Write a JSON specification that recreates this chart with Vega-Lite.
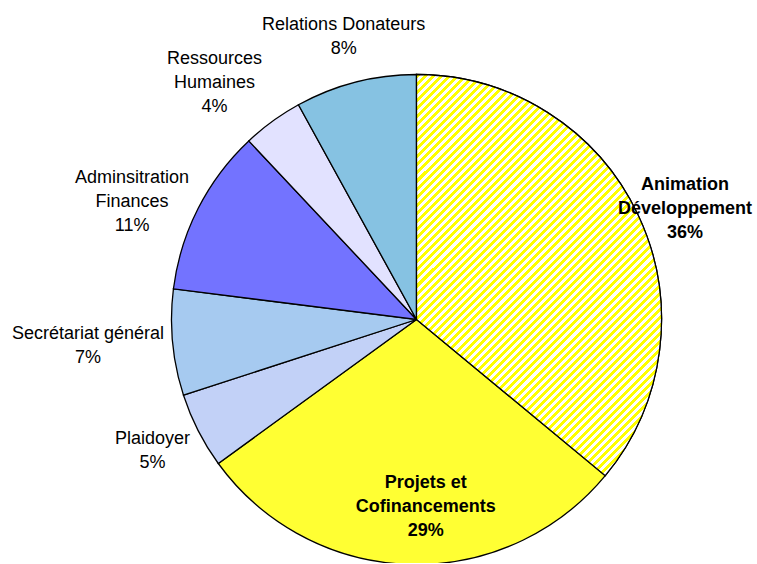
{
  "$schema": "https://vega.github.io/schema/vega-lite/v6.json",
  "width": 683,
  "height": 487,
  "autosize": {"type": "none"},
  "padding": {"left": 75, "top": 76, "right": 0, "bottom": 0},
  "background": "white",
  "config": {"view": {"stroke": null}, "text": {"font": "Liberation Sans", "fontSize": 18, "lineHeight": 24, "lineBreak": "\n", "color": "black"}},
  "data": {"values": [
    {"order": 1, "name": "Animation Développement", "label": "Animation\nDéveloppement\n36%", "value": 36},
    {"order": 2, "name": "Projets et Cofinancements", "label": "Projets et\nCofinancements\n29%", "value": 29},
    {"order": 3, "name": "Plaidoyer", "label": "Plaidoyer\n5%", "value": 5},
    {"order": 4, "name": "Secrétariat général", "label": "Secrétariat général\n7%", "value": 7},
    {"order": 5, "name": "Adminsitration Finances", "label": "Adminsitration\nFinances\n11%", "value": 11},
    {"order": 6, "name": "Ressources Humaines", "label": "Ressources\nHumaines\n4%", "value": 4},
    {"order": 7, "name": "Relations Donateurs", "label": "Relations Donateurs\n8%", "value": 8}
  ]},
  "encoding": {
    "theta": {"field": "value", "type": "quantitative", "stack": true},
    "order": {"field": "order", "type": "quantitative"}
  },
  "layer": [
    {
      "mark": {"type": "arc", "outerRadius": 245, "stroke": "black", "strokeWidth": 1.3},
      "encoding": {
        "color": {
          "field": "name", "type": "nominal", "legend": null,
          "scale": {
            "domain": ["Animation Développement", "Projets et Cofinancements", "Plaidoyer", "Secrétariat général", "Adminsitration Finances", "Ressources Humaines", "Relations Donateurs"],
            "range": ["#FFFF80", "#FFFF33", "#C2D1F7", "#A6CAF0", "#7373FF", "#E2E2FF", "#86C2E2"]
          }
        }
      }
    },
    {
      "mark": {
        "type": "arc", "outerRadius": 245, "stroke": "black", "strokeWidth": 1.3,
        "fill": {"gradient": "linear", "x1": 0, "y1": 0, "x2": 0.7164, "y2": 1.1732, "stops": [
          {"offset":0,"color":"#ff0"},{"offset":0.00625,"color":"#ff0"},{"offset":0.00625,"color":"#fff"},{"offset":0.0125,"color":"#fff"},
          {"offset":0.0125,"color":"#ff0"},{"offset":0.01875,"color":"#ff0"},{"offset":0.01875,"color":"#fff"},{"offset":0.025,"color":"#fff"},
          {"offset":0.025,"color":"#ff0"},{"offset":0.03125,"color":"#ff0"},{"offset":0.03125,"color":"#fff"},{"offset":0.0375,"color":"#fff"},
          {"offset":0.0375,"color":"#ff0"},{"offset":0.04375,"color":"#ff0"},{"offset":0.04375,"color":"#fff"},{"offset":0.05,"color":"#fff"},
          {"offset":0.05,"color":"#ff0"},{"offset":0.05625,"color":"#ff0"},{"offset":0.05625,"color":"#fff"},{"offset":0.0625,"color":"#fff"},
          {"offset":0.0625,"color":"#ff0"},{"offset":0.06875,"color":"#ff0"},{"offset":0.06875,"color":"#fff"},{"offset":0.075,"color":"#fff"},
          {"offset":0.075,"color":"#ff0"},{"offset":0.08125,"color":"#ff0"},{"offset":0.08125,"color":"#fff"},{"offset":0.0875,"color":"#fff"},
          {"offset":0.0875,"color":"#ff0"},{"offset":0.09375,"color":"#ff0"},{"offset":0.09375,"color":"#fff"},{"offset":0.1,"color":"#fff"},
          {"offset":0.1,"color":"#ff0"},{"offset":0.10625,"color":"#ff0"},{"offset":0.10625,"color":"#fff"},{"offset":0.1125,"color":"#fff"},
          {"offset":0.1125,"color":"#ff0"},{"offset":0.11875,"color":"#ff0"},{"offset":0.11875,"color":"#fff"},{"offset":0.125,"color":"#fff"},
          {"offset":0.125,"color":"#ff0"},{"offset":0.13125,"color":"#ff0"},{"offset":0.13125,"color":"#fff"},{"offset":0.1375,"color":"#fff"},
          {"offset":0.1375,"color":"#ff0"},{"offset":0.14375,"color":"#ff0"},{"offset":0.14375,"color":"#fff"},{"offset":0.15,"color":"#fff"},
          {"offset":0.15,"color":"#ff0"},{"offset":0.15625,"color":"#ff0"},{"offset":0.15625,"color":"#fff"},{"offset":0.1625,"color":"#fff"},
          {"offset":0.1625,"color":"#ff0"},{"offset":0.16875,"color":"#ff0"},{"offset":0.16875,"color":"#fff"},{"offset":0.175,"color":"#fff"},
          {"offset":0.175,"color":"#ff0"},{"offset":0.18125,"color":"#ff0"},{"offset":0.18125,"color":"#fff"},{"offset":0.1875,"color":"#fff"},
          {"offset":0.1875,"color":"#ff0"},{"offset":0.19375,"color":"#ff0"},{"offset":0.19375,"color":"#fff"},{"offset":0.2,"color":"#fff"},
          {"offset":0.2,"color":"#ff0"},{"offset":0.20625,"color":"#ff0"},{"offset":0.20625,"color":"#fff"},{"offset":0.2125,"color":"#fff"},
          {"offset":0.2125,"color":"#ff0"},{"offset":0.21875,"color":"#ff0"},{"offset":0.21875,"color":"#fff"},{"offset":0.225,"color":"#fff"},
          {"offset":0.225,"color":"#ff0"},{"offset":0.23125,"color":"#ff0"},{"offset":0.23125,"color":"#fff"},{"offset":0.2375,"color":"#fff"},
          {"offset":0.2375,"color":"#ff0"},{"offset":0.24375,"color":"#ff0"},{"offset":0.24375,"color":"#fff"},{"offset":0.25,"color":"#fff"},
          {"offset":0.25,"color":"#ff0"},{"offset":0.25625,"color":"#ff0"},{"offset":0.25625,"color":"#fff"},{"offset":0.2625,"color":"#fff"},
          {"offset":0.2625,"color":"#ff0"},{"offset":0.26875,"color":"#ff0"},{"offset":0.26875,"color":"#fff"},{"offset":0.275,"color":"#fff"},
          {"offset":0.275,"color":"#ff0"},{"offset":0.28125,"color":"#ff0"},{"offset":0.28125,"color":"#fff"},{"offset":0.2875,"color":"#fff"},
          {"offset":0.2875,"color":"#ff0"},{"offset":0.29375,"color":"#ff0"},{"offset":0.29375,"color":"#fff"},{"offset":0.3,"color":"#fff"},
          {"offset":0.3,"color":"#ff0"},{"offset":0.30625,"color":"#ff0"},{"offset":0.30625,"color":"#fff"},{"offset":0.3125,"color":"#fff"},
          {"offset":0.3125,"color":"#ff0"},{"offset":0.31875,"color":"#ff0"},{"offset":0.31875,"color":"#fff"},{"offset":0.325,"color":"#fff"},
          {"offset":0.325,"color":"#ff0"},{"offset":0.33125,"color":"#ff0"},{"offset":0.33125,"color":"#fff"},{"offset":0.3375,"color":"#fff"},
          {"offset":0.3375,"color":"#ff0"},{"offset":0.34375,"color":"#ff0"},{"offset":0.34375,"color":"#fff"},{"offset":0.35,"color":"#fff"},
          {"offset":0.35,"color":"#ff0"},{"offset":0.35625,"color":"#ff0"},{"offset":0.35625,"color":"#fff"},{"offset":0.3625,"color":"#fff"},
          {"offset":0.3625,"color":"#ff0"},{"offset":0.36875,"color":"#ff0"},{"offset":0.36875,"color":"#fff"},{"offset":0.375,"color":"#fff"},
          {"offset":0.375,"color":"#ff0"},{"offset":0.38125,"color":"#ff0"},{"offset":0.38125,"color":"#fff"},{"offset":0.3875,"color":"#fff"},
          {"offset":0.3875,"color":"#ff0"},{"offset":0.39375,"color":"#ff0"},{"offset":0.39375,"color":"#fff"},{"offset":0.4,"color":"#fff"},
          {"offset":0.4,"color":"#ff0"},{"offset":0.40625,"color":"#ff0"},{"offset":0.40625,"color":"#fff"},{"offset":0.4125,"color":"#fff"},
          {"offset":0.4125,"color":"#ff0"},{"offset":0.41875,"color":"#ff0"},{"offset":0.41875,"color":"#fff"},{"offset":0.425,"color":"#fff"},
          {"offset":0.425,"color":"#ff0"},{"offset":0.43125,"color":"#ff0"},{"offset":0.43125,"color":"#fff"},{"offset":0.4375,"color":"#fff"},
          {"offset":0.4375,"color":"#ff0"},{"offset":0.44375,"color":"#ff0"},{"offset":0.44375,"color":"#fff"},{"offset":0.45,"color":"#fff"},
          {"offset":0.45,"color":"#ff0"},{"offset":0.45625,"color":"#ff0"},{"offset":0.45625,"color":"#fff"},{"offset":0.4625,"color":"#fff"},
          {"offset":0.4625,"color":"#ff0"},{"offset":0.46875,"color":"#ff0"},{"offset":0.46875,"color":"#fff"},{"offset":0.475,"color":"#fff"},
          {"offset":0.475,"color":"#ff0"},{"offset":0.48125,"color":"#ff0"},{"offset":0.48125,"color":"#fff"},{"offset":0.4875,"color":"#fff"},
          {"offset":0.4875,"color":"#ff0"},{"offset":0.49375,"color":"#ff0"},{"offset":0.49375,"color":"#fff"},{"offset":0.5,"color":"#fff"},
          {"offset":0.5,"color":"#ff0"},{"offset":0.50625,"color":"#ff0"},{"offset":0.50625,"color":"#fff"},{"offset":0.5125,"color":"#fff"},
          {"offset":0.5125,"color":"#ff0"},{"offset":0.51875,"color":"#ff0"},{"offset":0.51875,"color":"#fff"},{"offset":0.525,"color":"#fff"},
          {"offset":0.525,"color":"#ff0"},{"offset":0.53125,"color":"#ff0"},{"offset":0.53125,"color":"#fff"},{"offset":0.5375,"color":"#fff"},
          {"offset":0.5375,"color":"#ff0"},{"offset":0.54375,"color":"#ff0"},{"offset":0.54375,"color":"#fff"},{"offset":0.55,"color":"#fff"},
          {"offset":0.55,"color":"#ff0"},{"offset":0.55625,"color":"#ff0"},{"offset":0.55625,"color":"#fff"},{"offset":0.5625,"color":"#fff"},
          {"offset":0.5625,"color":"#ff0"},{"offset":0.56875,"color":"#ff0"},{"offset":0.56875,"color":"#fff"},{"offset":0.575,"color":"#fff"},
          {"offset":0.575,"color":"#ff0"},{"offset":0.58125,"color":"#ff0"},{"offset":0.58125,"color":"#fff"},{"offset":0.5875,"color":"#fff"},
          {"offset":0.5875,"color":"#ff0"},{"offset":0.59375,"color":"#ff0"},{"offset":0.59375,"color":"#fff"},{"offset":0.6,"color":"#fff"},
          {"offset":0.6,"color":"#ff0"},{"offset":0.60625,"color":"#ff0"},{"offset":0.60625,"color":"#fff"},{"offset":0.6125,"color":"#fff"},
          {"offset":0.6125,"color":"#ff0"},{"offset":0.61875,"color":"#ff0"},{"offset":0.61875,"color":"#fff"},{"offset":0.625,"color":"#fff"},
          {"offset":0.625,"color":"#ff0"},{"offset":0.63125,"color":"#ff0"},{"offset":0.63125,"color":"#fff"},{"offset":0.6375,"color":"#fff"},
          {"offset":0.6375,"color":"#ff0"},{"offset":0.64375,"color":"#ff0"},{"offset":0.64375,"color":"#fff"},{"offset":0.65,"color":"#fff"},
          {"offset":0.65,"color":"#ff0"},{"offset":0.65625,"color":"#ff0"},{"offset":0.65625,"color":"#fff"},{"offset":0.6625,"color":"#fff"},
          {"offset":0.6625,"color":"#ff0"},{"offset":0.66875,"color":"#ff0"},{"offset":0.66875,"color":"#fff"},{"offset":0.675,"color":"#fff"},
          {"offset":0.675,"color":"#ff0"},{"offset":0.68125,"color":"#ff0"},{"offset":0.68125,"color":"#fff"},{"offset":0.6875,"color":"#fff"},
          {"offset":0.6875,"color":"#ff0"},{"offset":0.69375,"color":"#ff0"},{"offset":0.69375,"color":"#fff"},{"offset":0.7,"color":"#fff"},
          {"offset":0.7,"color":"#ff0"},{"offset":0.70625,"color":"#ff0"},{"offset":0.70625,"color":"#fff"},{"offset":0.7125,"color":"#fff"},
          {"offset":0.7125,"color":"#ff0"},{"offset":0.71875,"color":"#ff0"},{"offset":0.71875,"color":"#fff"},{"offset":0.725,"color":"#fff"},
          {"offset":0.725,"color":"#ff0"},{"offset":0.73125,"color":"#ff0"},{"offset":0.73125,"color":"#fff"},{"offset":0.7375,"color":"#fff"},
          {"offset":0.7375,"color":"#ff0"},{"offset":0.74375,"color":"#ff0"},{"offset":0.74375,"color":"#fff"},{"offset":0.75,"color":"#fff"},
          {"offset":0.75,"color":"#ff0"},{"offset":0.75625,"color":"#ff0"},{"offset":0.75625,"color":"#fff"},{"offset":0.7625,"color":"#fff"},
          {"offset":0.7625,"color":"#ff0"},{"offset":0.76875,"color":"#ff0"},{"offset":0.76875,"color":"#fff"},{"offset":0.775,"color":"#fff"},
          {"offset":0.775,"color":"#ff0"},{"offset":0.78125,"color":"#ff0"},{"offset":0.78125,"color":"#fff"},{"offset":0.7875,"color":"#fff"},
          {"offset":0.7875,"color":"#ff0"},{"offset":0.79375,"color":"#ff0"},{"offset":0.79375,"color":"#fff"},{"offset":0.8,"color":"#fff"},
          {"offset":0.8,"color":"#ff0"},{"offset":0.80625,"color":"#ff0"},{"offset":0.80625,"color":"#fff"},{"offset":0.8125,"color":"#fff"},
          {"offset":0.8125,"color":"#ff0"},{"offset":0.81875,"color":"#ff0"},{"offset":0.81875,"color":"#fff"},{"offset":0.825,"color":"#fff"},
          {"offset":0.825,"color":"#ff0"},{"offset":0.83125,"color":"#ff0"},{"offset":0.83125,"color":"#fff"},{"offset":0.8375,"color":"#fff"},
          {"offset":0.8375,"color":"#ff0"},{"offset":0.84375,"color":"#ff0"},{"offset":0.84375,"color":"#fff"},{"offset":0.85,"color":"#fff"},
          {"offset":0.85,"color":"#ff0"},{"offset":0.85625,"color":"#ff0"},{"offset":0.85625,"color":"#fff"},{"offset":0.8625,"color":"#fff"},
          {"offset":0.8625,"color":"#ff0"},{"offset":0.86875,"color":"#ff0"},{"offset":0.86875,"color":"#fff"},{"offset":0.875,"color":"#fff"},
          {"offset":0.875,"color":"#ff0"},{"offset":0.88125,"color":"#ff0"},{"offset":0.88125,"color":"#fff"},{"offset":0.8875,"color":"#fff"},
          {"offset":0.8875,"color":"#ff0"},{"offset":0.89375,"color":"#ff0"},{"offset":0.89375,"color":"#fff"},{"offset":0.9,"color":"#fff"},
          {"offset":0.9,"color":"#ff0"},{"offset":0.90625,"color":"#ff0"},{"offset":0.90625,"color":"#fff"},{"offset":0.9125,"color":"#fff"},
          {"offset":0.9125,"color":"#ff0"},{"offset":0.91875,"color":"#ff0"},{"offset":0.91875,"color":"#fff"},{"offset":0.925,"color":"#fff"},
          {"offset":0.925,"color":"#ff0"},{"offset":0.93125,"color":"#ff0"},{"offset":0.93125,"color":"#fff"},{"offset":0.9375,"color":"#fff"},
          {"offset":0.9375,"color":"#ff0"},{"offset":0.94375,"color":"#ff0"},{"offset":0.94375,"color":"#fff"},{"offset":0.95,"color":"#fff"},
          {"offset":0.95,"color":"#ff0"},{"offset":0.95625,"color":"#ff0"},{"offset":0.95625,"color":"#fff"},{"offset":0.9625,"color":"#fff"},
          {"offset":0.9625,"color":"#ff0"},{"offset":0.96875,"color":"#ff0"},{"offset":0.96875,"color":"#fff"},{"offset":0.975,"color":"#fff"},
          {"offset":0.975,"color":"#ff0"},{"offset":0.98125,"color":"#ff0"},{"offset":0.98125,"color":"#fff"},{"offset":0.9875,"color":"#fff"},
          {"offset":0.9875,"color":"#ff0"},{"offset":0.99375,"color":"#ff0"},{"offset":0.99375,"color":"#fff"},{"offset":1,"color":"#fff"}
        ]}
      },
      "encoding": {"opacity": {"condition": {"test": "datum.name === 'Animation Développement'", "value": 1}, "value": 0}}
    },
    {
      "mark": {"type": "text", "radius": 293, "dy": -11},
      "encoding": {"text": {"condition": {"test": "datum.name === 'Relations Donateurs'", "field": "label"}, "value": ""}}
    },
    {
      "mark": {"type": "text", "radius": 313, "dx": -18, "dy": -7},
      "encoding": {"text": {"condition": {"test": "datum.name === 'Ressources Humaines'", "field": "label"}, "value": ""}}
    },
    {
      "mark": {"type": "text", "radius": 308, "dx": -10, "dy": -2},
      "encoding": {"text": {"condition": {"test": "datum.name === 'Adminsitration Finances'", "field": "label"}, "value": ""}}
    },
    {
      "mark": {"type": "text", "radius": 330, "dy": -17},
      "encoding": {"text": {"condition": {"test": "datum.name === 'Secrétariat général'", "field": "label"}, "value": ""}}
    },
    {
      "mark": {"type": "text", "radius": 294, "dx": -2, "dy": -14},
      "encoding": {"text": {"condition": {"test": "datum.name === 'Plaidoyer'", "field": "label"}, "value": ""}}
    },
    {
      "mark": {"type": "text", "radius": 185, "dx": 15, "dy": -21, "fontWeight": "bold"},
      "encoding": {"text": {"condition": {"test": "datum.name === 'Projets et Cofinancements'", "field": "label"}, "value": ""}}
    },
    {
      "mark": {"type": "text", "radius": 290, "dx": 6, "dy": -11, "fontWeight": "bold"},
      "encoding": {"text": {"condition": {"test": "datum.name === 'Animation Développement'", "field": "label"}, "value": ""}}
    }
  ]
}
